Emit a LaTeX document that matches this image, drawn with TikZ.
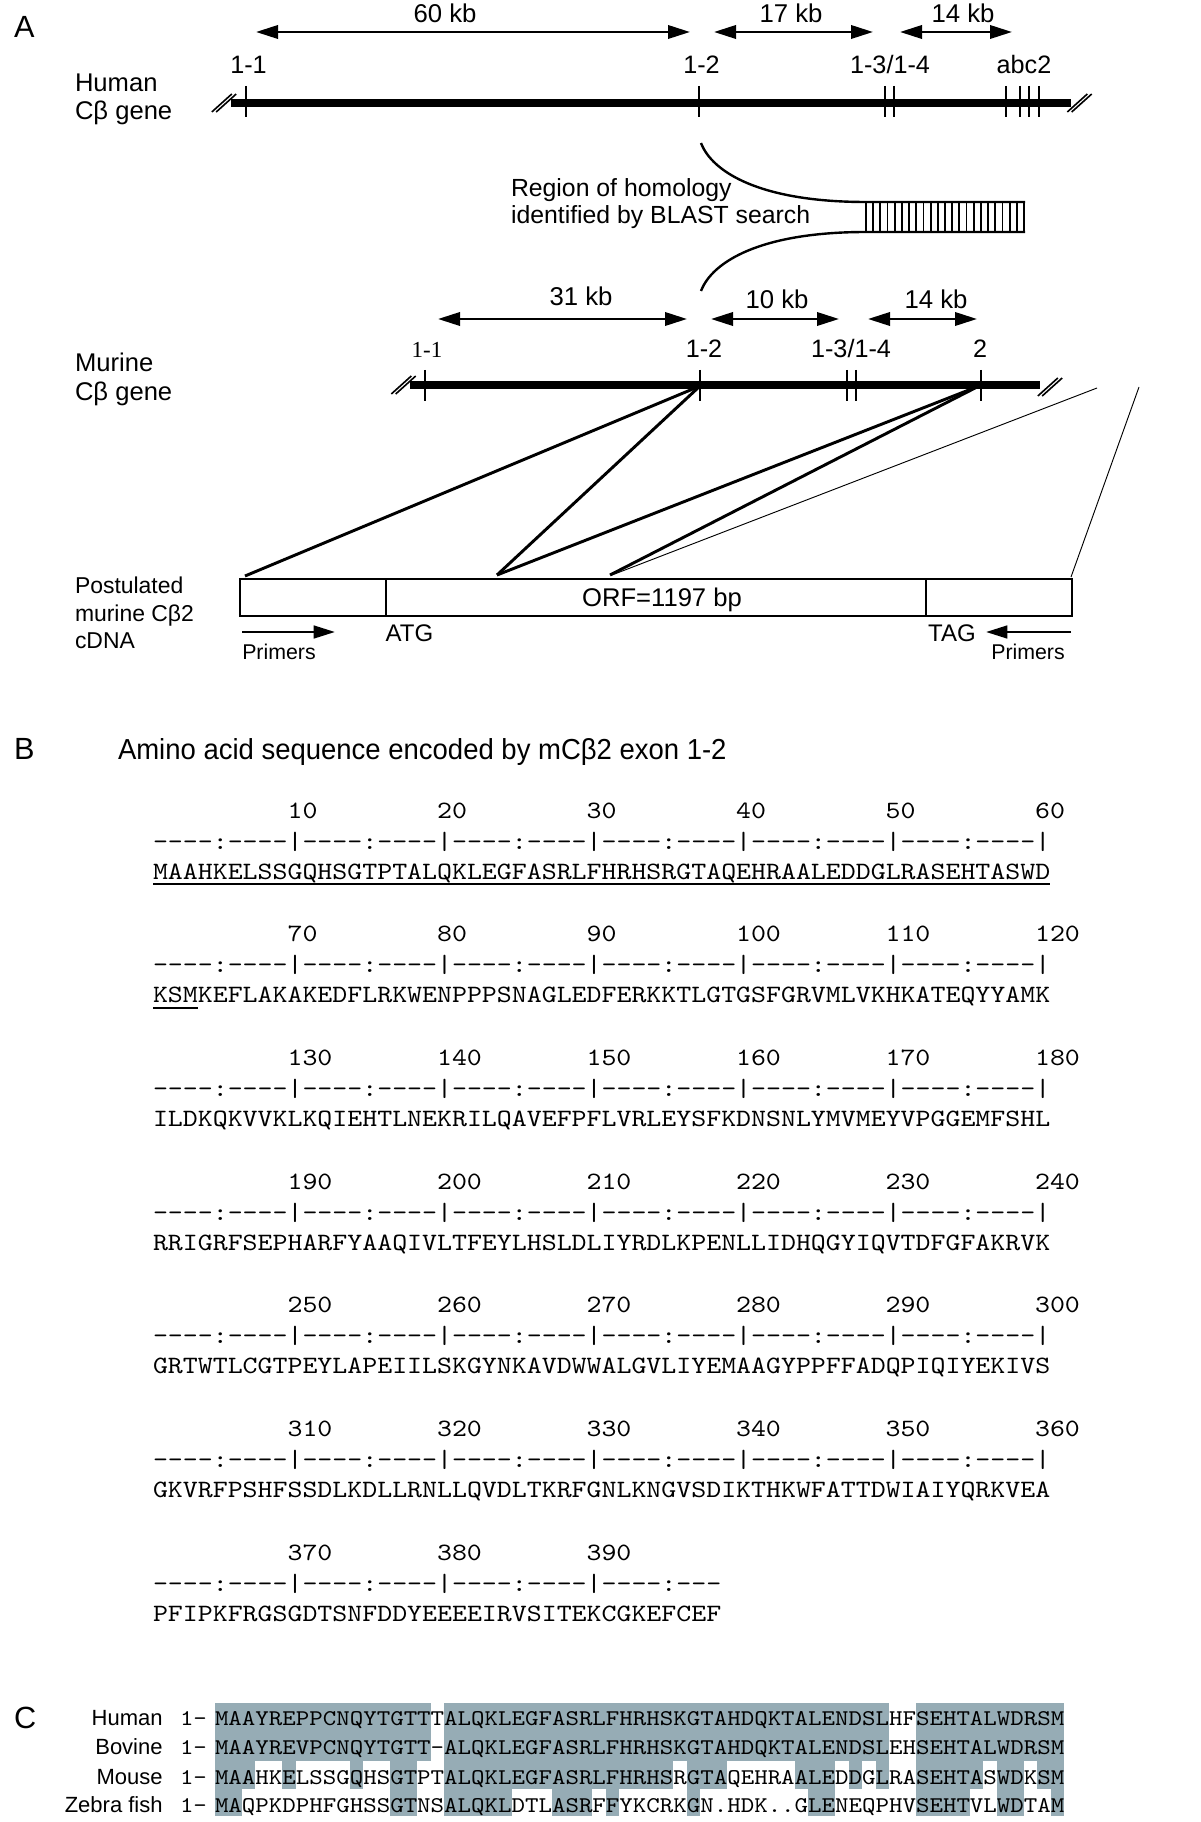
\documentclass[tikz,border=0pt]{standalone}
\usepackage{fontspec}
\setmainfont{Liberation Sans}
\newfontfamily\serifnum{Liberation Serif}
\newfontfamily\titlefont{Liberation Sans}[FakeStretch=0.95]
\setmonofont{lmmono10-regular.otf}[FakeStretch=1.143]
\usetikzlibrary{arrows.meta}
\definecolor{shadeblue}{RGB}{150,172,181}
\begin{document}
\begin{tikzpicture}[x=0.75pt,y=-0.75pt]
\tikzset{
  txt/.style={inner sep=0pt, outer sep=0pt},
  lab/.style={txt, font=\fontsize{19.2}{22}\selectfont},
  smlab/.style={txt, font=\fontsize{17.2}{20}\selectfont},
  kb/.style={txt, font=\fontsize{19.3}{22}\selectfont},
  exon/.style={txt, font=\fontsize{18.9}{22}\selectfont},
  panel/.style={txt, font=\fontsize{23}{26}\selectfont},
  primer/.style={txt, font=\fontsize{16}{19}\selectfont},
  clab/.style={txt, font=\fontsize{16.5}{19}\selectfont, anchor=base east},
  gene/.style={line width=6pt},
  exontick/.style={line width=1.5pt},
  dimarrow/.style={line width=1.9pt, {Triangle[length=16.5pt,width=10pt]}-{Triangle[length=16.5pt,width=10pt]}},
  primerarrow/.style={line width=1.9pt, -{Triangle[length=16pt,width=9.5pt]}},
  link/.style={line width=2.2pt},
  thinlink/.style={line width=0.7pt},
  hashmark/.style={line width=1.2pt},
  homline/.style={line width=1.8pt},
  hatchline/.style={line width=1.4pt},
  boxline/.style={line width=1.9pt},
  seqB/.style={txt, font=\ttfamily\fontsize{18.69}{22}\selectfont, anchor=base west},
  seqC/.style={txt, font=\ttfamily\fontsize{16.85}{20}\selectfont, anchor=base west},
}
\useasboundingbox (0,0) rectangle (1200,1822);
\fill[white] (0,0) rectangle (1200,1822);

% ================= Panel A =================
\node[panel, anchor=base west] (pA) at (14,38) {A};

% distance arrows (human)
\coordinate (d60a) at (256,32);  \coordinate (d60b) at (690,32);
\coordinate (d17a) at (714,32);  \coordinate (d17b) at (873,32);
\coordinate (d14a) at (900,32);  \coordinate (d14b) at (1012,32);
\draw[dimarrow] (d60a) -- (d60b);
\draw[dimarrow] (d17a) -- (d17b);
\draw[dimarrow] (d14a) -- (d14b);
\node[kb, anchor=base] (t60) at (445,23) {60 kb};
\node[kb, anchor=base] (t17) at (791,23) {17 kb};
\node[kb, anchor=base] (t14) at (963,23) {14 kb};

% human exon labels
\node[exon, anchor=base] (h11) at (248.5,73.5) {1-1};
\node[exon, anchor=base] (h12) at (701.5,73.5) {1-2};
\node[exon, anchor=base] (h134) at (890,73.5) {1-3/1-4};
\node[exon, anchor=base] (habc) at (1024,73.5) {abc2};

% human labels
\node[lab, anchor=base west] (humA) at (75,92) {Human};
\node[lab, anchor=base west] (humB) at (75,120) {Cβ gene};

% human gene line
\coordinate (hL) at (231,103); \coordinate (hR) at (1071,103);
\draw[gene] (hL) -- (hR);
\foreach \x in {246,699,885,893.5,1005.6,1019.8,1029.4,1039}
  \draw[exontick] (\x,86) -- (\x,117);

% murine distance arrows
\coordinate (d31a) at (438,319);  \coordinate (d31b) at (687,319);
\coordinate (d10a) at (711,319);  \coordinate (d10b) at (839,319);
\coordinate (e14a) at (868,319);  \coordinate (e14b) at (977,319);
\draw[dimarrow] (d31a) -- (d31b);
\draw[dimarrow] (d10a) -- (d10b);
\draw[dimarrow] (e14a) -- (e14b);
\node[kb, anchor=base] (t31) at (581,306) {31 kb};
\node[kb, anchor=base] (t10) at (777,309) {10 kb};
\node[kb, anchor=base] (t14m) at (936,309) {14 kb};

% murine exon labels
\node[txt, font=\serifnum\fontsize{17.2}{20}\selectfont, anchor=base] (m11) at (427,358) {1-1};
\node[exon, anchor=base] (m12l) at (704,358) {1-2};
\node[exon, anchor=base] (m134) at (851,358) {1-3/1-4};
\node[exon, anchor=base] (m2l) at (980,358) {2};

% murine labels
\node[lab, anchor=base west] (murA) at (75,372) {Murine};
\node[lab, anchor=base west] (murB) at (75,401) {Cβ gene};

% murine gene line
\coordinate (mL) at (409.5,385); \coordinate (mR) at (1040,385);
\draw[gene] (mL) -- (mR);
\foreach \x in {425,700,847,856,981}
  \draw[exontick] (\x,370) -- (\x,401);

% break marks
\foreach \cx/\cy in {224/103,1079.5/103,403.5/385,1050/387}{
  \fill[white] ({\cx-12.2},{\cy+9}) -- ({\cx+7.8},{\cy-9}) -- ({\cx+12.2},{\cy-9}) -- ({\cx-7.8},{\cy+9}) -- cycle;
  \draw[hashmark] ({\cx-12.2},{\cy+9}) -- ({\cx+7.8},{\cy-9});
  \draw[hashmark] ({\cx-7.8},{\cy+9}) -- ({\cx+12.2},{\cy-9});
}

% homology region
\coordinate (hu12) at (701,143); \coordinate (mu12) at (701,291);
\coordinate (hatchTL) at (866,202); \coordinate (hatchTR) at (1025,202);
\coordinate (hatchBL) at (866,232); \coordinate (hatchBR) at (1025,232);
\draw[homline] (hu12) .. controls (712,172) and (760,202) .. (hatchTL) -- (hatchTR);
\draw[homline] (mu12) .. controls (712,262) and (760,232) .. (hatchBL) -- (hatchBR);
\foreach \i in {0,...,22}
  \draw[hatchline] ({866+\i*7.18},202) -- ({866+\i*7.18},232);
\node[txt, font=\fontsize{18.6}{22}\selectfont, anchor=base west] (reg1) at (511,197) {Region of homology};
\node[txt, font=\fontsize{18.6}{22}\selectfont, anchor=base west] (reg2) at (511,224) {identified by BLAST search};

% links from murine gene to cDNA
\coordinate (m12) at (700,386); \coordinate (m2) at (979,386);
\coordinate (c1) at (245,576); \coordinate (c2) at (497,575); \coordinate (c3) at (610,575);
\coordinate (t1s) at (1097,388); \coordinate (t1e) at (612,575);
\coordinate (t2s) at (1139,387); \coordinate (t2e) at (1071,577);
\draw[link] (m12) -- (c1);
\draw[link] (m12) -- (c2);
\draw[link] (m2) -- (c2);
\draw[link] (m2) -- (c3);
\draw[thinlink] (t1s) -- (t1e);
\draw[thinlink] (t2s) -- (t2e);

% cDNA box
\coordinate (bxTL) at (240,579); \coordinate (bxBR) at (1072,616);
\draw[boxline] (bxTL) rectangle (bxBR);
\draw[boxline] (386,579) -- (386,616);
\draw[boxline] (926,579) -- (926,616);
\node[lab, anchor=base] (orf) at (662,606) {ORF=1197 bp};
\node[txt, font=\fontsize{18}{21}\selectfont, anchor=base] (atg) at (409.5,641) {ATG};
\node[txt, font=\fontsize{18}{21}\selectfont, anchor=base] (tag) at (952,641) {TAG};

% primers
\coordinate (p1a) at (242,632); \coordinate (p1b) at (335,632);
\coordinate (p2a) at (1071,632); \coordinate (p2b) at (986,632);
\draw[primerarrow] (p1a) -- (p1b);
\draw[primerarrow] (p2a) -- (p2b);
\node[primer, anchor=base] (pr1) at (279,659) {Primers};
\node[primer, anchor=base] (pr2) at (1028,659) {Primers};

% cDNA labels
\node[smlab, anchor=base west] (pc1) at (75,593) {Postulated};
\node[smlab, anchor=base west] (pc2) at (75,621) {murine Cβ2};
\node[smlab, anchor=base west] (pc3) at (75,648) {cDNA};

% ================= Panel B =================
\node[panel, anchor=base west] (pB) at (14,759) {B};
\node[txt, font=\titlefont\fontsize{21.7}{25}\selectfont, anchor=base west] (titleB) at (118,759) {Amino acid sequence encoded by mCβ2 exon 1-2};

\foreach \blk in {0,...,5}{
  \foreach \j in {0,...,5}{
    \pgfmathtruncatemacro\num{60*\blk+10*(\j+1)}
    \node[seqB] (num\blk-\j) at ({153+(10*\j+9)*14.95},{818+123.67*\blk}) {\num};
  }
  \node[seqB] (rul\blk) at (153,{849+123.67*\blk}) {----:----|----:----|----:----|----:----|----:----|----:----|};
}
\foreach \j in {0,...,2}{
  \pgfmathtruncatemacro\num{360+10*(\j+1)}
  \node[seqB] (num6-\j) at ({153+(10*\j+9)*14.95},{818+123.67*6}) {\num};
}
\node[seqB] (rul6) at (153,{849+123.67*6}) {----:----|----:----|----:----|----:---};

\node[seqB] (sq0) at (153,879) {MAAHKELSSGQHSGTPTALQKLEGFASRLFHRHSRGTAQEHRAALEDDGLRASEHTASWD};
\node[seqB] (sq1) at (153,{879+123.67}) {KSMKEFLAKAKEDFLRKWENPPPSNAGLEDFERKKTLGTGSFGRVMLVKHKATEQYYAMK};
\node[seqB] (sq2) at (153,{879+123.67*2}) {ILDKQKVVKLKQIEHTLNEKRILQAVEFPFLVRLEYSFKDNSNLYMVMEYVPGGEMFSHL};
\node[seqB] (sq3) at (153,{879+123.67*3}) {RRIGRFSEPHARFYAAQIVLTFEYLHSLDLIYRDLKPENLLIDHQGYIQVTDFGFAKRVK};
\node[seqB] (sq4) at (153,{879+123.67*4}) {GRTWTLCGTPEYLAPEIILSKGYNKAVDWWALGVLIYEMAAGYPPFFADQPIQIYEKIVS};
\node[seqB] (sq5) at (153,{879+123.67*5}) {GKVRFPSHFSSDLKDLLRNLLQVDLTKRFGNLKNGVSDIKTHKWFATTDWIAIYQRKVEA};
\node[seqB] (sq6) at (153,{879+123.67*6}) {PFIPKFRGSGDTSNFDDYEEEEIRVSITEKCGKEFCEF};

\coordinate (u1a) at (153,884); \coordinate (u1b) at (1050,884);
\coordinate (u2a) at (153,1008); \coordinate (u2b) at (198,1008);
\draw[line width=2.2pt] (u1a) -- (u1b);
\draw[line width=2.2pt] (u2a) -- (u2b);

% ================= Panel C =================
\node[panel, anchor=base west] (pC) at (14,1728) {C};

% shading
\foreach \a/\b in {1/16,18/50,53/63}{
  \fill[shadeblue] ({215+(\a-1)*13.48},1703) rectangle ({215+\b*13.48},1761);
}
\foreach \a/\b in {1/3,6/6,11/11,14/15,18/34,36/38,44/46,48/48,50/50,53/57,59/60,62/63}{
  \fill[shadeblue] ({215+(\a-1)*13.48},1760.5) rectangle ({215+\b*13.48},1789);
}
\foreach \a/\b in {1/2,14/15,18/22,26/28,30/30,36/36,45/46,53/56,59/60,63/63}{
  \fill[shadeblue] ({215+(\a-1)*13.48},1788.5) rectangle ({215+\b*13.48},1816);
}

\node[clab] (cH) at (162.6,1725) {Human};
\node[clab] (cB) at (162.6,1754.5) {Bovine};
\node[clab] (cM) at (162.6,1784) {Mouse};
\node[clab] (cZ) at (162.6,1812) {Zebra fish};
\node[seqC] (oH) at (180,1725) {1-};
\node[seqC] (oB) at (180,1754.5) {1-};
\node[seqC] (oM) at (180,1784) {1-};
\node[seqC] (oZ) at (180,1812) {1-};
\node[seqC] (sH) at (215,1725) {MAAYREPPCNQYTGTTTALQKLEGFASRLFHRHSKGTAHDQKTALENDSLHFSEHTALWDRSM};
\node[seqC] (sB) at (215,1754.5) {MAAYREVPCNQYTGTT-ALQKLEGFASRLFHRHSKGTAHDQKTALENDSLEHSEHTALWDRSM};
\node[seqC] (sM) at (215,1784) {MAAHKELSSGQHSGTPTALQKLEGFASRLFHRHSRGTAQEHRAALEDDGLRASEHTASWDKSM};
\node[seqC] (sZ) at (215,1812) {MAQPKDPHFGHSSGTNSALQKLDTLASRFFYKCRKGN.HDK..GLENEQPHVSEHTVLWDTAM};
\end{tikzpicture}
\end{document}
